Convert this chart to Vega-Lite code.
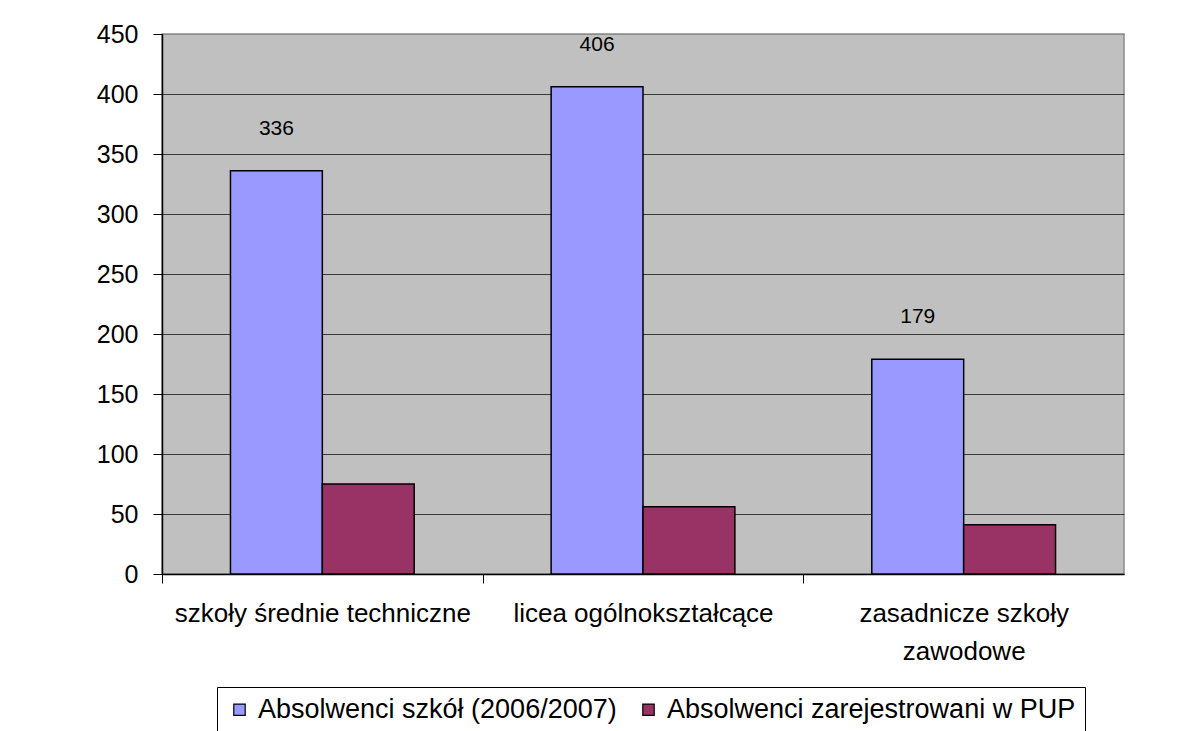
{
  "$schema": "https://vega.github.io/schema/vega-lite/v6.json",
  "autosize": "none",
  "width": 962,
  "height": 540,
  "padding": {"left": 162, "top": 34, "right": 67, "bottom": 157},
  "background": "white",
  "config": {
    "font": "Liberation Sans",
    "view": {"fill": "#C0C0C0", "stroke": "#8C8C8C", "strokeWidth": 1.5}
  },
  "data": {
    "values": [
      {"kategoria": "szkoły średnie techniczne", "seria": "Absolwenci szkół (2006/2007)", "wartosc": 336},
      {"kategoria": "szkoły średnie techniczne", "seria": "Absolwenci zarejestrowani w PUP", "wartosc": 75},
      {"kategoria": "licea ogólnokształcące", "seria": "Absolwenci szkół (2006/2007)", "wartosc": 406},
      {"kategoria": "licea ogólnokształcące", "seria": "Absolwenci zarejestrowani w PUP", "wartosc": 56},
      {"kategoria": "zasadnicze szkoły zawodowe", "seria": "Absolwenci szkół (2006/2007)", "wartosc": 179},
      {"kategoria": "zasadnicze szkoły zawodowe", "seria": "Absolwenci zarejestrowani w PUP", "wartosc": 41}
    ]
  },
  "encoding": {
    "x": {
      "field": "kategoria",
      "type": "nominal",
      "sort": null,
      "title": null,
      "scale": {"paddingInner": 0.427, "paddingOuter": 0.2135},
      "axis": {
        "labelAngle": 0,
        "labelFontSize": 26,
        "labelColor": "black",
        "labelPadding": 17,
        "labelLineHeight": 38,
        "labelExpr": "datum.label == 'zasadnicze szkoły zawodowe' ? ['zasadnicze szkoły', 'zawodowe'] : datum.label",
        "labelLimit": 400,
        "tickOffset": -160.33,
        "labelOffset": 160.33,
        "tickSize": 9,
        "tickColor": "black",
        "tickWidth": 1,
        "domainColor": "black",
        "domainWidth": 1.5,
        "grid": false
      }
    },
    "xOffset": {"field": "seria", "type": "nominal", "sort": null, "scale": {"paddingInner": 0, "paddingOuter": 0}},
    "y": {
      "field": "wartosc",
      "type": "quantitative",
      "title": null,
      "scale": {"domain": [0, 450], "nice": false},
      "axis": {
        "values": [0, 50, 100, 150, 200, 250, 300, 350, 400, 450],
        "labelFontSize": 25,
        "labelColor": "black",
        "labelPadding": 15,
        "tickSize": 9,
        "tickColor": "black",
        "domainColor": "black",
        "domainWidth": 1.5,
        "grid": true,
        "gridColor": {"condition": {"test": "datum.value === 450", "value": "#8C8C8C"}, "value": "#3A3A3A"},
        "gridWidth": 1.2
      }
    }
  },
  "layer": [
    {
      "mark": {"type": "bar", "stroke": "black", "strokeWidth": 1.5},
      "encoding": {
        "color": {
          "field": "seria",
          "type": "nominal",
          "sort": null,
          "scale": {"range": ["#9999FF", "#993366"]},
          "legend": {
            "title": null,
            "orient": "none",
            "legendX": 55,
            "legendY": 653,
            "direction": "horizontal",
            "symbolType": "square",
            "symbolSize": 130,
            "symbolStrokeColor": "black",
            "symbolStrokeWidth": 1.2,
            "labelFontSize": 27,
            "labelColor": "black",
            "labelOffset": 5,
            "labelLimit": 500,
            "columnPadding": 18,
            "padding": 9,
            "strokeColor": "black",
            "fillColor": "white"
          }
        }
      }
    },
    {
      "transform": [{"filter": "datum.seria == 'Absolwenci szkół (2006/2007)'"}],
      "mark": {"type": "text", "fontSize": 21, "color": "black", "baseline": "middle", "dy": -42},
      "encoding": {
        "text": {"field": "wartosc", "type": "quantitative"}
      }
    }
  ]
}
